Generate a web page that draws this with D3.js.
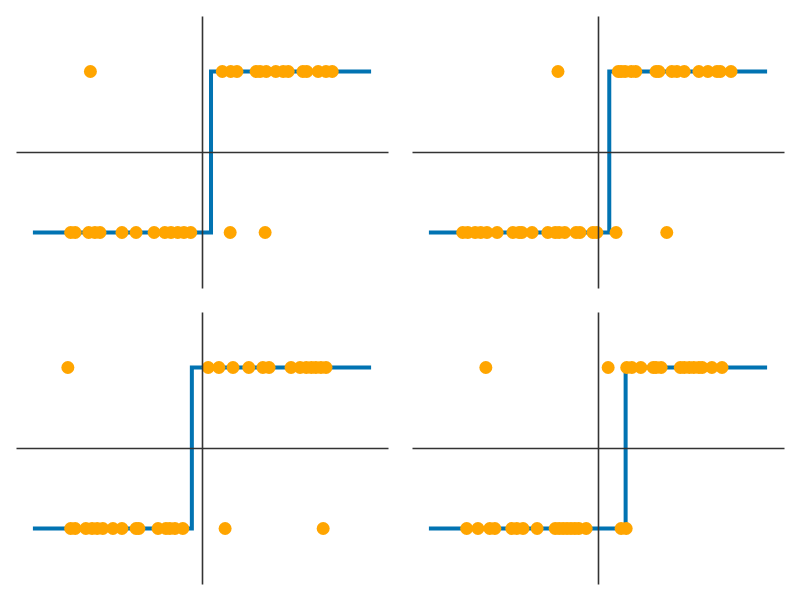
<!DOCTYPE html>
<html>
<head>
<meta charset="utf-8">
<script src="https://cdn.jsdelivr.net/npm/d3@7"></script>
<style>
  html, body { margin: 0; padding: 0; background: #fff; }
  svg { display: block; }
</style>
</head>
<body>
<svg id="chart" width="800" height="600"></svg>
<script>
// ---- data (x positions in data units; labels are +1 / -1) ----
const panelNames = ["A", "B", "C", "D"];
const thresholds = [0.16, 0.20, -0.18, 0.49];
const lineRange = [-3, 3];

const upperA = [-1.98, 0.36, 0.51, 0.62, 0.96, 1.03, 1.14, 1.31, 1.44, 1.53, 1.79, 1.86, 2.06, 2.20, 2.31];
const lowerA = [-2.33, -2.25, -2.01, -1.90, -1.81, -1.42, -1.17, -0.85, -0.66, -0.55, -0.43, -0.32, -0.20, 0.50, 1.12];

const upperB = [-0.71, 0.36, 0.41, 0.48, 0.59, 0.67, 1.03, 1.08, 1.31, 1.40, 1.53, 1.79, 1.95, 2.11, 2.17, 2.36];
const lowerB = [-2.40, -2.31, -2.18, -2.08, -1.97, -1.79, -1.51, -1.40, -1.35, -1.17, -0.89, -0.76, -0.69, -0.59, -0.39, -0.32, -0.09, -0.02, 0.32, 1.22];

const upperC = [-2.38, 0.11, 0.30, 0.55, 0.83, 1.08, 1.19, 1.58, 1.74, 1.85, 1.94, 2.02, 2.11, 2.20];
const lowerC = [-2.33, -2.25, -2.06, -1.95, -1.86, -1.76, -1.58, -1.42, -1.17, -1.12, -0.78, -0.64, -0.57, -0.48, -0.34, 0.41, 2.15];

const upperD = [-1.99, 0.18, 0.51, 0.60, 0.76, 0.98, 1.03, 1.12, 1.46, 1.53, 1.62, 1.70, 1.79, 1.85, 2.02, 2.20];
const lowerD = [-2.33, -2.13, -1.92, -1.83, -1.53, -1.44, -1.33, -1.08, -0.76, -0.69, -0.62, -0.55, -0.48, -0.41, -0.34, -0.21, 0.41, 0.50];

const uppers = [upperA, upperB, upperC, upperD];
const lowers = [lowerA, lowerB, lowerC, lowerD];

// ---- layout ----
const svg = d3.select("#chart");
const boxes = [
  {x0: 16, x1: 388, y0: 16, y1: 288},
  {x0: 412, x1: 784, y0: 16, y1: 288},
  {x0: 16, x1: 388, y0: 312, y1: 584},
  {x0: 412, x1: 784, y0: 312, y1: 584}
];
const lineColor = "#0173b2";
const dotColor = "#ffa500";
const spineColor = "#333333";

panelNames.forEach((name, i) => {
  const b = boxes[i];
  const pad = (lineRange[1] - lineRange[0]) * 0.05;
  const x = d3.scaleLinear().domain([lineRange[0] - pad, lineRange[1] + pad]).range([b.x0, b.x1]);
  const y = d3.scaleLinear().domain([-1.69, 1.69]).range([b.y1, b.y0]);
  const g = svg.append("g").attr("class", "panel-" + name);

  // step function
  const t = thresholds[i];
  const stepPts = [[lineRange[0], -1], [t, -1], [t, 1], [lineRange[1], 1]];
  g.append("path")
    .datum(stepPts)
    .attr("d", d3.line().x(d => x(d[0])).y(d => y(d[1])))
    .attr("fill", "none")
    .attr("stroke", lineColor)
    .attr("stroke-width", 4);

  // points
  const pts = uppers[i].map(v => [v, 1]).concat(lowers[i].map(v => [v, -1]));
  g.selectAll("circle")
    .data(pts)
    .enter().append("circle")
    .attr("cx", d => x(d[0]))
    .attr("cy", d => y(d[1]))
    .attr("r", 6.5)
    .attr("fill", dotColor);

  // spines through the origin (axes without ticks)
  const xAxis = d3.axisBottom(x).tickValues([]).tickSizeOuter(0);
  const yAxis = d3.axisLeft(y).tickValues([]).tickSizeOuter(0);
  const gx = g.append("g").attr("transform", `translate(0,${y(0)})`).call(xAxis);
  const gy = g.append("g").attr("transform", `translate(${x(0)},0)`).call(yAxis);
  [gx, gy].forEach(a => a.select(".domain").attr("stroke", spineColor).attr("stroke-width", 1.6));
});
</script>
</body>
</html>
